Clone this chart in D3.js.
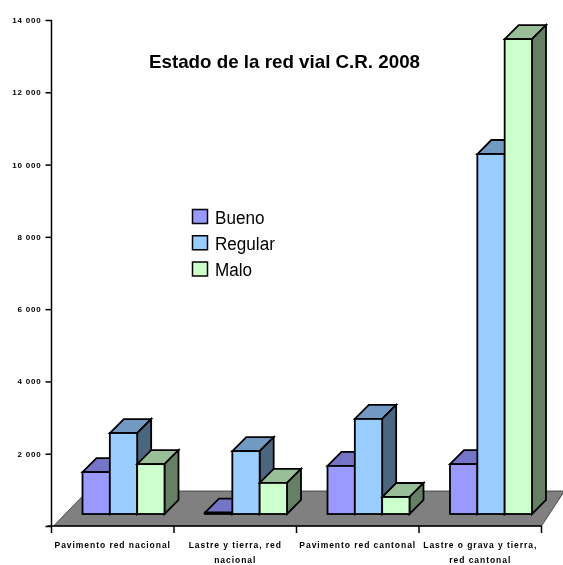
<!DOCTYPE html>
<html><head><meta charset="utf-8">
<script src="https://cdn.jsdelivr.net/npm/d3@7"></script>
<style>html,body{margin:0;padding:0;background:#fff}svg{display:block;filter:blur(0.35px)}</style>
</head><body><div id="c"></div>
<script>
const title = "Estado de la red vial C.R. 2008";
const categories = ["Pavimento red nacional","Lastre y tierra, red nacional","Pavimento red cantonal","Lastre o grava y tierra, red cantonal"];
const categoryLines = [["Pavimento red nacional"],["Lastre y tierra, red","nacional"],["Pavimento red cantonal"],["Lastre o grava y tierra,","red cantonal"]];
const seriesNames = ["Bueno","Regular","Malo"];
const bueno = [1160,40,1330,1380];
const regular = [2240,1740,2630,9960];
const malo = [1380,860,470,13140];
const yTicks = [0,2000,4000,6000,8000,10000,12000,14000];
const seriesValues = [bueno,regular,malo];
const front = ["#9999ff","#99ccff","#ccffcc"];
const topC = ["#7575c8","#7299c2","#99bf99"];
const side = ["#4d4d80","#4d6680","#668066"];

const W=563,H=565;
const svg=d3.select("#c").append("svg").attr("width",W).attr("height",H);
const x=d3.scaleBand().domain(categories).range([51.5,541.5]);
const y=d3.scaleLinear().domain([0,14000]).range([526,20]);
const xs=d3.scaleBand().domain(seriesNames).range([0,82]);
const floorDx=36,floorDy=35, baseDy=12, barStart=31, d=14;
const base=y(0)-baseDy;
const stroke="#000",sw=1.8;

// floor
svg.append("polygon")
  .attr("points",[[x.range()[0]+2,y(0)],[x.range()[1],y(0)],[x.range()[1]+floorDx-13,y(0)-floorDy],[x.range()[0]+floorDx,y(0)-floorDy]].join(" "))
  .attr("fill","#808080").attr("stroke","#333").attr("stroke-width",0.8);

// axes
const ay=svg.append("g").attr("transform",`translate(${x.range()[0]},0)`)
  .call(d3.axisLeft(y).tickValues(yTicks).tickSize(6).tickFormat(v=>v===0?"":d3.format(",")(v).replace(",","\u00a0")));
const ax=svg.append("g").attr("transform",`translate(0,${y(0)})`)
  .call(d3.axisBottom(x).tickSize(6).tickFormat(""));
ax.selectAll(".tick").remove();
const edges=[...categories.map(c=>x(c)),x.range()[1]];
ax.selectAll("line.e").data(edges).join("line").attr("class","e")
  .attr("x1",v=>v).attr("x2",v=>v).attr("y1",0).attr("y2",7).attr("stroke","#000").attr("stroke-width",1.5);
[ay,ax].forEach(g=>{g.selectAll("path,line").attr("stroke","#000").attr("stroke-width",1.5)});
ax.select("path").attr("d",`M${x.range()[0]-4},0H${x.range()[1]}`);
ay.select("path").attr("d",`M0,${y(14000)}V${y(0)}`);
ay.selectAll("text").attr("font-family","Liberation Sans").attr("font-weight","bold").attr("font-size",8).attr("letter-spacing",0.8).attr("x",-10).attr("fill","#000");

// bars
categories.forEach((c,i)=>{
  const g=svg.append("g");
  seriesNames.forEach((s,j)=>{
    const v=seriesValues[j][i];
    const x0=x(c)+barStart+xs(s), x1=x0+xs.bandwidth();
    const yt=base-(y(0)-y(v));
    const pg=g.append("g").attr("stroke",stroke).attr("stroke-width",sw).attr("stroke-linejoin","miter");
    pg.append("polygon").attr("fill",topC[j]).attr("points",[[x0,yt],[x0+d,yt-d],[x1+d,yt-d],[x1,yt]].join(" "));
    pg.append("polygon").attr("fill",side[j]).attr("points",[[x1,yt],[x1+d,yt-d],[x1+d,base-d],[x1,base]].join(" "));
    pg.append("rect").attr("fill",front[j]).attr("x",x0).attr("y",yt).attr("width",xs.bandwidth()).attr("height",base-yt);
  });
});

// category labels
categories.forEach((c,i)=>{
  const t=svg.append("text").attr("text-anchor","middle").attr("font-family","Liberation Sans").attr("font-weight","bold").attr("font-size",8.5).attr("letter-spacing",0.95).attr("fill","#000");
  categoryLines[i].forEach((l,k)=>t.append("tspan").attr("x",x(c)+x.bandwidth()/2).attr("y",k?562.5:548).text(l));
});

// title
svg.append("text").attr("x",284.5).attr("y",68).attr("text-anchor","middle").attr("font-family","Liberation Sans").attr("font-weight","bold").attr("font-size",19).attr("textLength",271).attr("lengthAdjust","spacingAndGlyphs").text(title);

// legend
const legY=d3.scalePoint().domain(seriesNames).range([216.5,269]);
const lg=svg.append("g");
seriesNames.forEach((s,j)=>{
  lg.append("rect").attr("x",192.5).attr("y",legY(s)-7).attr("width",15).attr("height",14).attr("fill",front[j]).attr("stroke","#000").attr("stroke-width",1.5);
  lg.append("text").attr("transform",`translate(215,${legY(s)+7}) scale(0.9,1)`).attr("font-family","Liberation Sans").attr("font-size",19).text(s);
});
</script></body></html>
